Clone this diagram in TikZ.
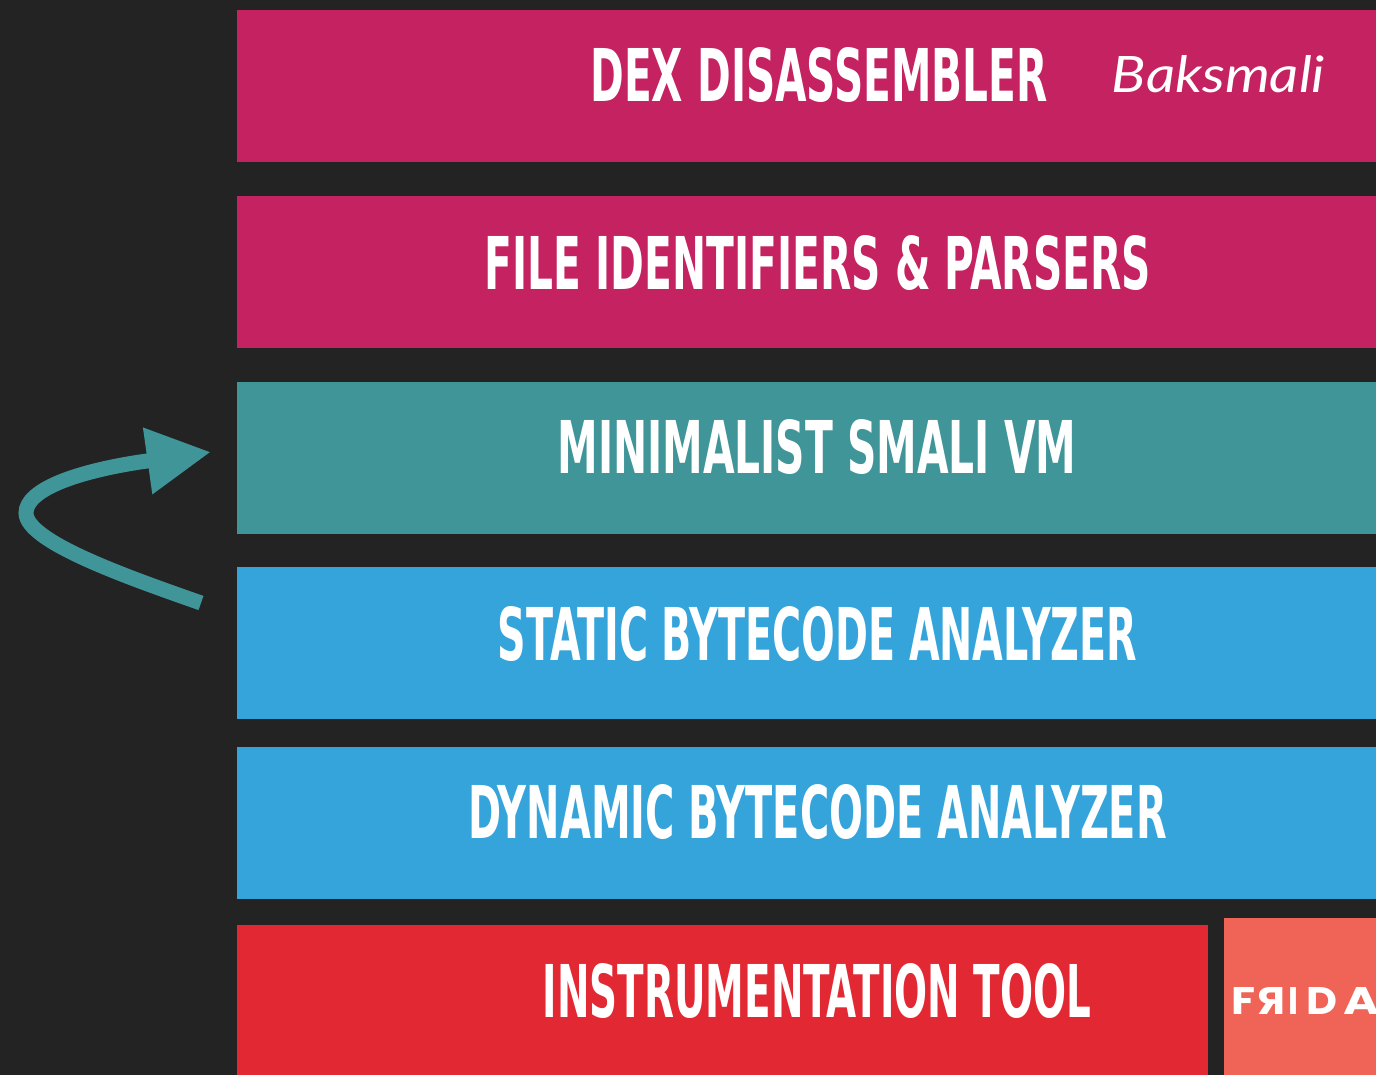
\documentclass[tikz,border=0pt]{standalone}
\usepackage{fontspec}
\usepackage{graphicx}
\usetikzlibrary{arrows.meta}
\newfontfamily\dinfont{DejaVu Sans Condensed Bold}
\newfontfamily\latofont{Lato}
\newfontfamily\fridafont{Poppins}
\definecolor{bg}{RGB}{35,35,35}
\definecolor{magbar}{RGB}{196,34,96}
\definecolor{tealbar}{RGB}{64,149,152}
\definecolor{bluebar}{RGB}{53,164,218}
\definecolor{redbar}{RGB}{226,40,50}
\definecolor{fridabar}{RGB}{239,100,87}
\newcommand{\bartxt}[2]{\resizebox{#1}{54pt}{\dinfont #2}}
\newcommand{\fridaglyph}[2]{\resizebox{#1}{27pt}{\fridafont\bfseries #2}}
\begin{document}
\begin{tikzpicture}[x=1pt,y=-1pt,
  barbox/.style={draw=none,inner sep=0pt,outer sep=0pt,anchor=north west,minimum height=152pt,minimum width=1139pt},
  bartext/.style={anchor=base,inner sep=0pt,text=white},
  fridaletter/.style={anchor=base west,inner sep=0pt,text=white},
  arrowline/.style={draw=tealbar,line width=15pt,-{Triangle[length=64pt,width=63pt]}}]
\useasboundingbox (0,0) rectangle (1376,1075);
\fill[bg] (0,0) rectangle (1376,1075);
% bars
\node[barbox,fill=magbar] (b1) at (237,10) {};
\node[barbox,fill=magbar] (b2) at (237,196) {};
\node[barbox,fill=tealbar] (b3) at (237,382) {};
\node[barbox,fill=bluebar] (b4) at (237,567) {};
\node[barbox,fill=bluebar] (b5) at (237,747) {};
\node[barbox,fill=redbar,minimum width=971pt,minimum height=160pt] (b6) at (237,925) {};
\node[barbox,fill=fridabar,minimum width=160pt,minimum height=160pt] (b7) at (1224,918) {};
% texts
\node[bartext] (t1) at (819,102) {\bartxt{457pt}{DEX DISASSEMBLER}};
\node[bartext] (bk) at (1218.5,93) {\resizebox{213pt}{37pt}{\latofont\itshape Baksmali}};
\node[bartext] (t2) at (818,290) {\bartxt{666pt}{FILE IDENTIFIERS \& PARSERS}};
\node[bartext] (t3) at (817,473) {\bartxt{519pt}{MINIMALIST SMALI VM}};
\node[bartext] (t4) at (817.5,660) {\bartxt{639pt}{STATIC BYTECODE ANALYZER}};
\node[bartext] (t5) at (817.5,838) {\bartxt{699pt}{DYNAMIC BYTECODE ANALYZER}};
\node[bartext] (t6) at (817,1017) {\bartxt{548pt}{INSTRUMENTATION TOOL}};
% FRIDA logo
\begin{scope}
\clip (1224,918) rectangle (1376,1075);
\node[fridaletter] (f1) at (1231,1014) {\fridaglyph{24pt}{F}};
\node[fridaletter] (f2) at (1257,1014) {\fridaglyph{28pt}{\reflectbox{R}}};
\node[fridaletter] (f3) at (1288,1014) {\fridaglyph{10pt}{I}};
\node[fridaletter] (f4) at (1306,1014) {\fridaglyph{31pt}{D}};
\node[fridaletter] (f5) at (1343,1014) {\fridaglyph{36pt}{A}};
\end{scope}
% arrow
\coordinate (tail) at (201,603);
\coordinate (bend) at (26,513);
\coordinate (mid) at (140,462);
\coordinate (tip) at (211,452);
\draw[arrowline] (tail) .. controls (130,578) and (26,542) .. (bend) .. controls (26,490) and (75,472) .. (mid) -- (tip);
\end{tikzpicture}
\end{document}
